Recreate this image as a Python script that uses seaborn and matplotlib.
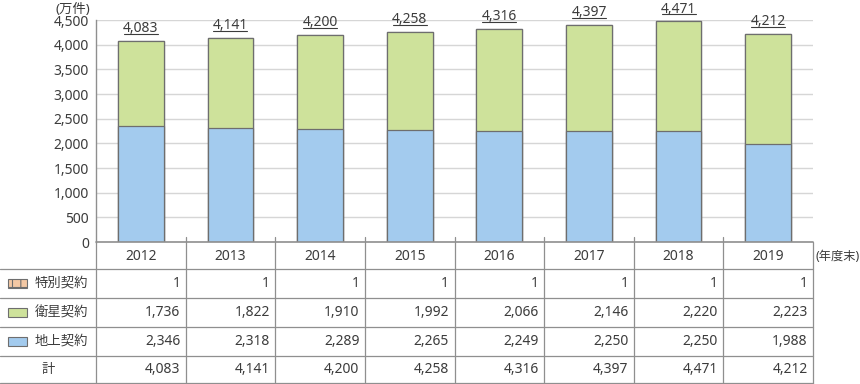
import numpy as np
import pandas as pd
import matplotlib
matplotlib.use("Agg")
import matplotlib.pyplot as plt
from matplotlib.lines import Line2D
from matplotlib.patches import Rectangle
from matplotlib.transforms import blended_transform_factory, ScaledTranslation
import seaborn as sns

# Data (万件, 年度末)
years = ["2012", "2013", "2014", "2015", "2016", "2017", "2018", "2019"]
special = [1, 1, 1, 1, 1, 1, 1, 1]
satellite = [1736, 1822, 1910, 1992, 2066, 2146, 2220, 2223]
terrestrial = [2346, 2318, 2289, 2265, 2249, 2250, 2250, 1988]
totals = [4083, 4141, 4200, 4258, 4316, 4397, 4471, 4212]

row_labels = ["特別契約", "衛星契約", "地上契約", "計"]
row_values = [special, satellite, terrestrial, totals]

c_blue = "#a3cbee"
c_green = "#cee29b"
c_orange = "#f4c8a4"
c_edge = "#6e6e6e"
c_line = "#8f8f8f"
c_text = "#3c3c3c"

sns.set_style("white")
plt.rcParams["font.family"] = ["Noto Sans", "Noto Sans CJK JP", "DejaVu Sans"]
plt.rcParams["hatch.color"] = "white"
plt.rcParams["hatch.linewidth"] = 0.8

num_fs = 10
jp_fs = 9.6

W, H = 860, 384
fig = plt.figure(figsize=(W / 100, H / 100), dpi=100)


def fx(x):
    return x / W


def fy(y):
    return 1 - y / H


ax_left, ax_right, ax_top, ax_bottom = 96, 813, 20, 242
ax = fig.add_axes([fx(ax_left), fy(ax_bottom), fx(ax_right - ax_left), (ax_bottom - ax_top) / H])

df = pd.DataFrame({"year": years, "special": special, "satellite": satellite,
                   "terrestrial": terrestrial})
df["sat_top"] = df["terrestrial"] + df["satellite"]
df["all_top"] = df["sat_top"] + df["special"]

# stacked bars drawn back to front
bw = 0.51
sns.barplot(data=df, x="year", y="all_top", color=c_orange, width=bw, saturation=1,
            edgecolor=c_edge, linewidth=0.9, hatch="++", ax=ax)
sns.barplot(data=df, x="year", y="sat_top", color=c_green, width=bw, saturation=1,
            edgecolor=c_edge, linewidth=0.9, ax=ax)
sns.barplot(data=df, x="year", y="terrestrial", color=c_blue, width=bw, saturation=1,
            edgecolor=c_edge, linewidth=0.9, ax=ax)

ax.set_xlim(-0.5, len(years) - 0.5)
ax.set_ylim(0, 4500)
ax.set_yticks(np.arange(0, 4501, 500))
ax.set_yticklabels([f"{v:,}" for v in np.arange(0, 4501, 500)], fontsize=num_fs, color=c_text)
ax.yaxis.grid(True, color="#d6d6d6", linewidth=1)
ax.set_axisbelow(True)
ax.tick_params(axis="y", length=0, pad=5)
ax.set_xticks([])
ax.set_xlabel("")
ax.set_ylabel("")
for s in ["top", "right", "bottom"]:
    ax.spines[s].set_visible(False)
ax.spines["left"].set_color(c_line)
ax.spines["left"].set_linewidth(1)

# total labels, underlined
shift = ScaledTranslation(0, 5.0 / 72, fig.dpi_scale_trans)
for i, t in enumerate(totals):
    ax.annotate(f"{t:,}", (i, t), xytext=(0, 6.3), textcoords="offset points",
                ha="center", va="baseline", fontsize=num_fs, color=c_text)
    ax.plot([i - 0.19, i + 0.19], [t, t], transform=ax.transData + shift,
            color=c_text, linewidth=0.8, clip_on=False)

fig.text(fx(55), fy(9), "(万件)", ha="left", va="center", fontsize=jp_fs, color=c_text)
fig.text(fx(816), fy(256), "(年度末)", ha="left", va="center", fontsize=8.8, color=c_text)

# table below the chart
tr = blended_transform_factory(ax.transData, fig.transFigure)
row_edges = [242, 269, 298, 327, 356, 383]
n = len(years)

fig.add_artist(Line2D([fx(ax_left), fx(ax_right)], [fy(242), fy(242)], color=c_line, linewidth=1.2))
for y in row_edges[1:]:
    fig.add_artist(Line2D([0, fx(ax_right)], [fy(y), fy(y)], color=c_line, linewidth=0.9))
fig.add_artist(Line2D([fx(ax_left), fx(ax_left)], [fy(242), fy(384)], color=c_line, linewidth=0.9))
for k in range(1, n + 1):
    top = 242 if k == n else 237
    fig.add_artist(Line2D([k - 0.5, k - 0.5], [fy(top), fy(384)], transform=tr,
                          color=c_line, linewidth=0.9))

# header row: years
for i, yr in enumerate(years):
    fig.text(i, fy(256), yr, transform=tr, ha="center", va="center", fontsize=num_fs, color=c_text)

swatches = [(c_orange, "++"), (c_green, None), (c_blue, None)]
for r, (lab, vals) in enumerate(zip(row_labels, row_values)):
    yc = (row_edges[r + 1] + row_edges[r + 2]) / 2
    if r < 3:
        col, hatch = swatches[r]
        fig.add_artist(Rectangle((fx(8), fy(yc + 4.5)), fx(19), 9 / H, facecolor=col,
                                 edgecolor=c_edge, linewidth=0.8, hatch=hatch,
                                 transform=fig.transFigure))
        fig.text(fx(35), fy(yc), lab, ha="left", va="center", fontsize=jp_fs, color=c_text)
    else:
        fig.text(fx(48), fy(yc), lab, ha="center", va="center", fontsize=jp_fs, color=c_text)
    for i, v in enumerate(vals):
        fig.text(i + 0.5 - 0.06, fy(yc), f"{v:,}", transform=tr, ha="right", va="center",
                 fontsize=num_fs, color=c_text)

fig.savefig("out.png", dpi=100)
